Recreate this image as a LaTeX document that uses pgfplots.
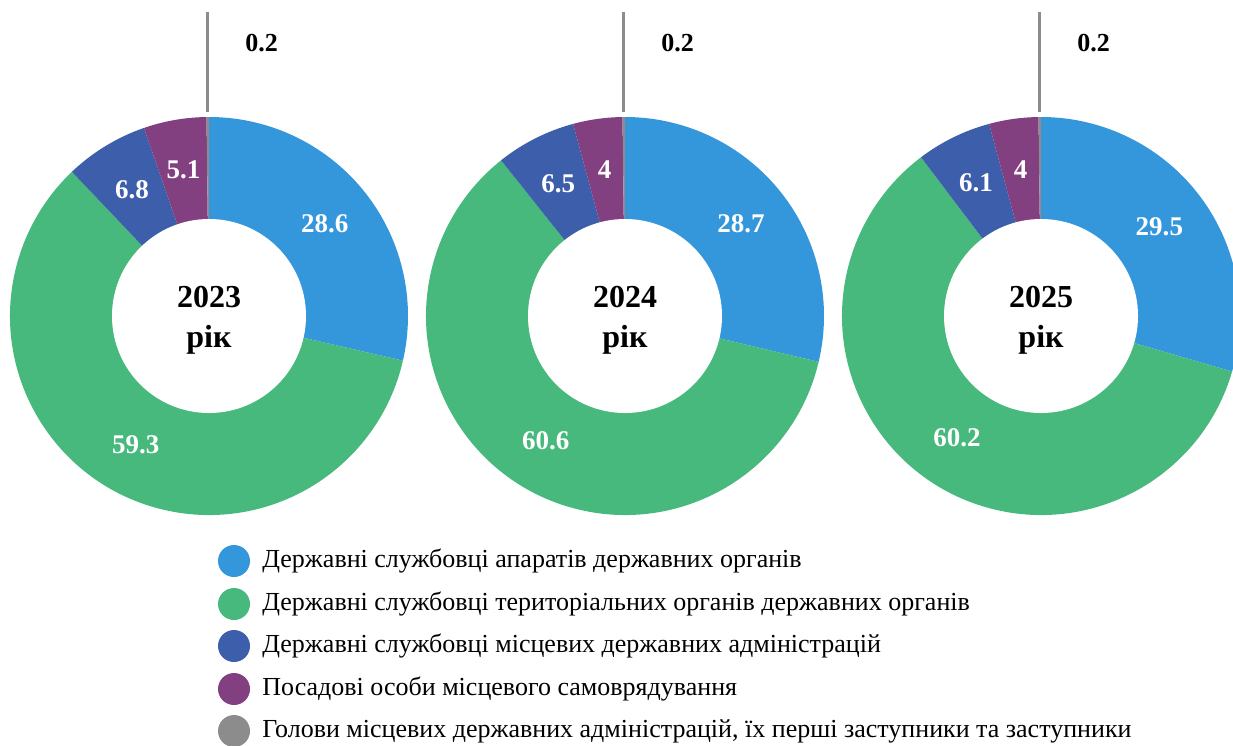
\documentclass[border=0pt]{standalone}
\usepackage{fontspec}
\setmainfont{Liberation Serif}
\usepackage{pgfplots}
\usepackage{pgfplotstable}
\pgfplotsset{compat=1.18}

\definecolor{cA}{RGB}{53,151,219}
\definecolor{cB}{RGB}{72,185,124}
\definecolor{cC}{RGB}{61,94,170}
\definecolor{cD}{RGB}{131,64,128}
\definecolor{cE}{RGB}{140,140,140}

% shares (%) by year; cx = horizontal position of each donut
\pgfplotstableread{
year cx v1 v2 v3 v4 v5
2023 209 28.6 59.3 6.8 5.1 0.2
2024 625 28.7 60.6 6.5 4 0.2
2025 1041 29.5 60.2 6.1 4 0.2
}\donutdata

\newcommand\inlabel{\path (axis cs:\cx,316) ++(\amid:74pt) node[text=white,font=\bfseries\fontsize{13.5}{16}\selectfont,inner sep=0pt]{\val};}
\newcommand\outlabel{\draw[cE,line width=1.5pt] (axis cs:\cx,316) ++(\amid:102pt) -- ++(0,50pt);
  \node[anchor=west,font=\bfseries\fontsize{13}{15}\selectfont,inner sep=0pt] at (axis cs:\cx+36,43) {\val};}

\newcommand\slice[4]{%
  \pgfplotstablegetelem{#1}{#2}\of\donutdata\edef\val{\pgfplotsretval}%
  \pgfmathsetmacro\aend{\acur-3.6*\val}%
  \pgfmathsetmacro\amid{(\acur+\aend)/2}%
  \fill[#3] (axis cs:\cx,316) -- ++(\acur:99.5pt) arc[start angle=\acur,end angle=\aend,radius=99.5pt] -- cycle;
  #4%
  \let\acur\aend
}

\newcommand\donut[1]{%
  \pgfplotstablegetelem{#1}{cx}\of\donutdata\edef\cx{\pgfplotsretval}%
  \pgfplotstablegetelem{#1}{year}\of\donutdata\edef\yr{\pgfplotsretval}%
  \def\acur{90}%
  \slice{#1}{v1}{cA}{\inlabel}%
  \slice{#1}{v2}{cB}{\inlabel}%
  \slice{#1}{v3}{cC}{\inlabel}%
  \slice{#1}{v4}{cD}{\inlabel}%
  \slice{#1}{v5}{cE}{\outlabel}%
  \fill[white] (axis cs:\cx,316) circle[radius=48.5pt];
  \node[anchor=base,font=\bfseries\fontsize{16}{19}\selectfont,inner sep=0pt] at (axis cs:\cx,307) {\yr};
  \node[anchor=base,font=\bfseries\fontsize{16}{19}\selectfont,inner sep=0pt] at (axis cs:\cx,347) {рік};
}

\newcommand\legitem[3]{%
  \fill[#2] (axis cs:234,#1) circle[radius=8pt];
  \node[anchor=base west,font=\fontsize{13}{15}\selectfont,inner sep=0pt] at (axis cs:262,#1+6) {#3};
}

\begin{document}
\begin{tikzpicture}
\begin{axis}[
  scale only axis, width=616.5pt, height=372.5pt,
  xmin=0, xmax=1233, ymin=0, ymax=745, y dir=reverse,
  hide axis, clip=false,
]
\pgfplotsextra{%
  \donut{0}\donut{1}\donut{2}%
  \legitem{561}{cA}{Державні службовці апаратів державних органів}
  \legitem{604}{cB}{Державні службовці територіальних органів державних органів}
  \legitem{646}{cC}{Державні службовці місцевих державних адміністрацій}
  \legitem{689}{cD}{Посадові особи місцевого самоврядування}
  \legitem{731}{cE}{Голови місцевих державних адміністрацій, їх перші заступники та заступники}
}
\end{axis}
\pgfresetboundingbox
\path[use as bounding box] (current axis.south west) rectangle (current axis.north east);
\end{tikzpicture}
\end{document}
